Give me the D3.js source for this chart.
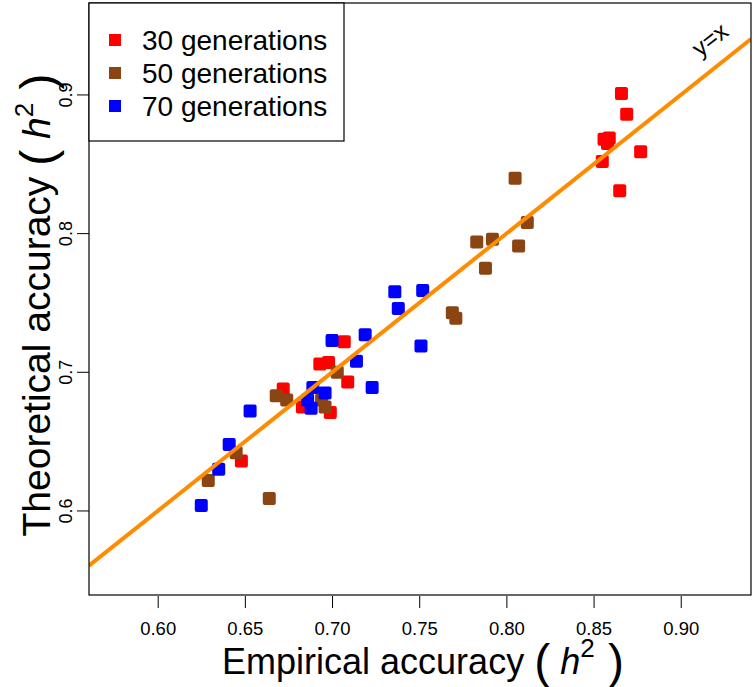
<!DOCTYPE html>
<html><head><meta charset="utf-8">
<script src="https://cdn.jsdelivr.net/npm/d3@7"></script>
<style>body{margin:0;background:#fff}svg{display:block;font-family:"Liberation Sans",Arial,Helvetica,sans-serif}</style>
</head><body><svg id="c" width="755" height="687"></svg>
<script>
const seriesNames = ["30 generations", "50 generations", "70 generations"];
const seriesColors = ["#FF0000", "#8B4513", "#0000FF"];
const gen30x = [0.866,0.869,0.859,0.856,0.858,0.855,0.877,0.865,0.707,0.693,0.698,0.709,0.672,0.683,0.699,0.648];
const gen30y = [0.901,0.886,0.869,0.868,0.865,0.852,0.859,0.831,0.722,0.706,0.707,0.693,0.688,0.675,0.671,0.636];
const gen50x = [0.812,0.783,0.792,0.807,0.788,0.769,0.771,0.805,0.703,0.668,0.674,0.696,0.694,0.645,0.629,0.664];
const gen50y = [0.808,0.794,0.796,0.791,0.775,0.743,0.739,0.840,0.700,0.683,0.680,0.675,0.680,0.642,0.622,0.609];
const gen70x = [0.736,0.752,0.738,0.700,0.719,0.714,0.751,0.723,0.689,0.696,0.686,0.688,0.653,0.641,0.635,0.625];
const gen70y = [0.758,0.759,0.746,0.723,0.727,0.708,0.719,0.689,0.689,0.685,0.680,0.674,0.672,0.648,0.630,0.604];
const xTicks = [0.60,0.65,0.70,0.75,0.80,0.85,0.90];
const yTicks = [0.6,0.7,0.8,0.9];
const xDomain = [0.5606, 0.9403];
const yDomain = [0.5394, 0.9663];

const svg = d3.select("#c");
const L=89, R=751, T=3, B=595;
const x = d3.scaleLinear().domain(xDomain).range([L,R]);
const y = d3.scaleLinear().domain(yDomain).range([B,T]);

const series = [
  {name:seriesNames[0], color:seriesColors[0], xs:gen30x, ys:gen30y},
  {name:seriesNames[1], color:seriesColors[1], xs:gen50x, ys:gen50y},
  {name:seriesNames[2], color:seriesColors[2], xs:gen70x, ys:gen70y}
];

svg.append("clipPath").attr("id","pc").append("rect").attr("x",L).attr("y",T).attr("width",R-L).attr("height",B-T);
const plot = svg.append("g").attr("clip-path","url(#pc)");
const S = 13;
series.forEach(s => {
  plot.selectAll(null).data(s.xs.map((v,i)=>[v,s.ys[i]])).enter().append("rect")
    .attr("x",d=>x(d[0])-S/2).attr("y",d=>y(d[1])-S/2).attr("width",S).attr("height",S)
    .attr("rx",2).attr("fill",s.color);
});
plot.append("line").attr("x1",x(xDomain[0])).attr("y1",y(xDomain[0])).attr("x2",x(xDomain[1])).attr("y2",y(xDomain[1]))
  .attr("stroke","#FF8C00").attr("stroke-width",4);

svg.append("rect").attr("x",L).attr("y",T).attr("width",R-L).attr("height",B-T).attr("fill","none").attr("stroke","#000").attr("stroke-width",1.2);

// x axis
const xa = svg.append("g").attr("transform",`translate(0,${B+1})`)
  .call(d3.axisBottom(x).tickValues(xTicks).tickFormat(d3.format(".2f")).tickSize(12).tickSizeOuter(0));
xa.select(".domain").remove();
xa.selectAll("text").attr("font-size",18.5).attr("dy","1.3em").attr("fill","#000").attr("font-family","Liberation Sans, Arial, sans-serif");
xa.selectAll("line").attr("stroke","#000");

// y axis
const ya = svg.append("g").attr("transform",`translate(${L},0)`)
  .call(d3.axisLeft(y).tickValues(yTicks).tickFormat(d3.format(".1f")).tickSize(12).tickSizeOuter(0));
ya.select(".domain").remove();
ya.selectAll(".tick").attr("transform",null);
ya.selectAll(".tick line").attr("y1",d=>y(d)).attr("y2",d=>y(d)).attr("stroke","#000");
ya.selectAll("text").attr("font-size",18).attr("fill","#000").attr("font-family","Liberation Sans, Arial, sans-serif")
  .attr("text-anchor","middle").attr("x",0).attr("y",0).attr("dy",0)
  .attr("transform",d=>`translate(-17,${y(d)}) rotate(-90)`);

// axis titles
function fillTitle(t, label){
  t.append("tspan").text(label + " ");
  t.append("tspan").attr("font-size",48).attr("dy",4).text("(");
  t.append("tspan").attr("font-style","italic").attr("dy",-4).text(" h");
  t.append("tspan").attr("font-size",26).attr("dy",-17).text("2");
  t.append("tspan").attr("font-size",48).attr("dy",21).text(" )");
}
const xt = svg.append("text").attr("x",423).attr("y",674).attr("text-anchor","middle").attr("font-size",36).attr("fill","#000");
fillTitle(xt, "Empirical accuracy");
const yt = svg.append("text").attr("transform",`translate(50,305) rotate(-90)`).attr("text-anchor","middle").attr("font-size",39).attr("fill","#000");
fillTitle(yt, "Theoretical accuracy");

// y=x label
svg.append("text").attr("transform",`translate(715,46) rotate(-38)`).attr("text-anchor","middle").attr("font-size",24).attr("fill","#000").text("y=x");

// legend
const lg = svg.append("g");
lg.append("rect").attr("x",L).attr("y",T).attr("width",255).attr("height",138).attr("fill","#fff").attr("stroke","#000").attr("stroke-width",1.2);
series.forEach((s,i)=>{
  const cy = 40 + i*33;
  lg.append("rect").attr("x",115-6).attr("y",cy-6).attr("width",12).attr("height",12).attr("fill",s.color);
  lg.append("text").attr("x",142).attr("y",cy+10).attr("font-size",28).attr("fill","#000").text(s.name);
});
</script></body></html>
